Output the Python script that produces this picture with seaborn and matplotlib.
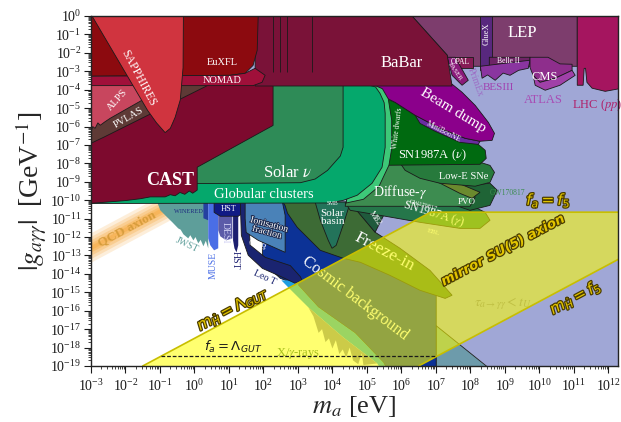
import numpy as np
import matplotlib
matplotlib.use("Agg")
import matplotlib.pyplot as plt
import matplotlib.patheffects as pe
from matplotlib.ticker import LogLocator, NullFormatter, FixedLocator
import seaborn as sns

# === region outlines: (log10 m_a [eV], log10 |g| [GeV^-1]) ===
LAVENDER = [(8.53, -19.1), (12.4, -19.1), (12.4, 0.1), (1.0, 0.1), (1.0, -7.8)]
LONG_LIVED = [(7.0, -19.1), (8.53, -19.1), (7.0, -16.8)]

JWST = [(-1.08, -10.1), (0.40, -10.1), (0.40, -12.61), (0.33, -12.2), (0.26, -12.5),
        (0.18, -12.15), (0.11, -12.34), (0.03, -12.0), (-0.03, -12.18), (-0.12, -11.9),
        (-0.18, -12.07), (-0.32, -11.85), (-0.40, -11.6), (-0.47, -11.53), (-0.64, -11.20),
        (-0.82, -10.87), (-0.99, -10.55)]
WINERED = [(0.26, -10.1), (0.40, -10.1), (0.40, -11.09), (0.26, -10.98)]
MUSE = [(0.40, -10.1), (0.69, -10.1), (0.69, -12.61), (0.57, -12.72), (0.46, -12.45), (0.40, -12.07)]
DESI = [(0.69, -10.1), (1.10, -10.1), (1.10, -12.07), (0.92, -12.18), (0.75, -11.96), (0.69, -11.63)]
HST_LINE = [(1.12, -10.1), (1.27, -10.1), (1.27, -12.45), (1.22, -12.83), (1.16, -12.61), (1.12, -12.18)]
HST_BOX = [(0.57, -10.1), (1.44, -10.1), (1.44, -10.66), (1.27, -10.87), (0.75, -10.87), (0.57, -10.66)]

COSMIC_BG = [(1.97, -10.1), (2.78, -10.1), (4.5, -11.5), (6.0, -13.2), (7.01, -14.6), (7.01, -19.1),
             (5.56, -19.1), (5.47, -18.80), (4.66, -17.22), (3.59, -15.81), (3.01, -14.62),
             (2.49, -14.24), (1.97, -13.37)]
SKY_STRIP = [(2.52, -14.35), (3.0, -14.35), (3.01, -14.62), (3.59, -15.81), (4.66, -17.22), (5.47, -18.80),
             (5.56, -19.1), (5.38, -19.1), (5.30, -18.86), (4.31, -17.44), (3.30, -15.81), (2.72, -14.73)]
XRAYS = [(3.3, -15.81), (4.31, -17.44), (5.30, -18.86), (4.9, -18.95), (4.85, -18.3), (4.75, -18.9),
         (4.6, -18.7), (4.5, -18.0), (4.4, -18.55), (4.3, -18.1), (4.2, -18.35), (4.1, -17.6),
         (4.0, -18.05), (3.9, -17.5), (3.8, -17.7), (3.7, -17.0), (3.6, -17.2), (3.45, -16.3)]
LEO_T_CMB = [(1.33, -10.1), (1.53, -10.1), (1.62, -12.45), (2.05, -13.1), (2.78, -13.55), (3.07, -14.15),
             (3.12, -14.35), (2.92, -14.51), (2.49, -14.13), (1.97, -13.70), (1.56, -12.99), (1.36, -11.91)]
IONISATION = [(1.47, -10.1), (2.55, -10.1), (2.63, -10.82), (2.63, -12.83), (1.85, -12.18),
              (1.50, -11.75), (1.47, -11.0)]

FREEZE_IN = [(2.57, -10.1), (4.52, -10.1), (5.24, -11.74), (5.96, -12.61), (6.83, -13.81), (7.47, -15.16),
             (7.27, -15.33), (6.54, -14.89), (5.67, -14.08), (4.81, -13.37), (4.31, -13.15),
             (3.65, -12.72), (2.98, -11.47), (2.70, -10.71), (2.63, -10.3)]
SOLAR_BASIN = [(3.50, -10.1), (4.52, -10.1), (4.31, -11.36), (4.11, -12.45), (3.99, -12.61),
               (3.88, -12.18), (3.65, -11.09)]
M82 = [(4.52, -10.15), (5.53, -10.66), (5.24, -11.74)]
SN87_GAMMA = [(4.37, -10.15), (7.99, -10.25), (8.43, -10.66), (8.57, -11.09), (8.28, -11.53),
              (7.70, -11.53), (6.54, -11.20), (5.38, -10.82), (4.52, -10.55)]
PVO = [(7.41, -9.3), (8.57, -9.08), (8.78, -9.46), (8.57, -10.28), (7.99, -10.55), (7.6, -10.3)]
DIFFUSE = [(4.66, -8.05), (6.40, -8.05), (8.14, -9.84), (7.99, -10.33), (4.37, -10.33)]
OLIVE_BAND = [(6.11, -8.11), (6.49, -8.16), (8.28, -9.57), (8.05, -9.90), (7.70, -9.63)]
LOWE_SNE = [(5.97, -8.0), (8.28, -7.94), (8.57, -8.11), (8.70, -8.49), (8.57, -9.03), (8.14, -9.24),
            (7.12, -9.08), (6.54, -8.81), (6.11, -8.38)]
SN87_NU = [(5.2, -4.2), (5.82, -4.69), (6.40, -5.39), (7.12, -6.10), (7.85, -6.64), (8.23, -6.97),
           (8.43, -7.29), (8.46, -7.73), (8.28, -8.05), (5.2, -8.11)]
MINIBOONE = [(6.40, -5.39), (7.12, -6.10), (7.85, -6.64), (8.28, -6.80), (8.23, -6.97), (7.70, -6.86),
             (6.98, -6.26), (6.54, -5.83)]
BEAM_DUMP = [(4.66, -3.70), (7.47, -3.70), (7.76, -4.14), (8.14, -4.85), (8.52, -5.77), (8.70, -6.37),
             (8.63, -6.75), (8.28, -6.80), (7.85, -6.64), (7.12, -6.10), (6.40, -5.39), (5.82, -4.69),
             (5.24, -4.14)]

WHITE_DWARFS = [(4.95, -3.7), (5.15, -3.7), (5.45, -3.95), (5.62, -4.5), (5.72, -5.66), (5.72, -7.2),
                (5.64, -8.1), (5.35, -9.25), (4.9, -9.95), (4.4, -10.15)]
GLOBULAR = [(-3.0, -3.7), (4.95, -3.7), (5.25, -3.85), (5.38, -4.20), (5.50, -4.7), (5.53, -5.28),
            (5.53, -7.13), (5.44, -8.21), (5.15, -9.08), (4.72, -9.73), (4.31, -10.01), (3.9, -10.15),
            (-3.0, -10.18)]
SOLAR_NU = [(0.0, -3.7), (4.31, -3.7), (4.31, -7.13), (4.23, -7.6), (3.86, -8.38), (3.5, -8.85),
            (3.07, -9.05), (0.0, -9.1)]
CAST = [(-3.0, -3.7), (2.28, -3.7), (2.28, -5.94), (0.08, -8.21), (0.08, -9.45), (-0.05, -9.62),
        (-0.15, -9.50), (-0.28, -9.68), (-0.42, -9.58), (-0.56, -9.76), (-0.70, -9.70), (-0.85, -9.82),
        (-1.28, -9.82), (-1.57, -9.92), (-2.0, -10.02), (-3.0, -10.17)]
PVLAS = [(-3.0, -6.91), (-2.64, -6.59), (0.46, -3.7), (-3.0, -3.7)]
ALPS = [(-3.0, -3.7), (-0.70, -3.7), (-2.44, -5.55), (-2.6, -5.75), (-2.73, -5.93), (-2.8, -5.80),
        (-2.88, -6.10), (-2.95, -6.0), (-3.0, -6.31)]

LEP = [(6.26, 0.1), (11.10, 0.1), (11.10, -2.73), (7.41, -2.73), (7.33, -2.13)]
LHC = [(11.10, 0.1), (12.4, 0.1), (12.4, -3.92), (11.91, -4.09), (11.53, -3.92), (11.38, -3.6),
       (11.34, -2.84), (11.30, -2.84), (11.27, -3.76), (11.10, -3.76)]
GLUEX = [(8.29, 0.1), (8.63, 0.1), (8.63, -2.95), (8.29, -2.95)]
BELLE2 = [(8.55, -2.24), (9.73, -2.24), (9.73, -2.6), (9.2, -2.75), (8.55, -2.95)]
BESIII = [(8.29, -2.73), (9.73, -2.40), (9.68, -2.84), (9.4, -2.95), (9.15, -3.22), (8.95, -3.1),
          (8.72, -3.49), (8.5, -3.2), (8.34, -3.38)]
CMS = [(9.73, -2.24), (10.25, -2.24), (10.60, -2.6), (10.95, -2.62), (10.95, -2.95), (10.46, -3.38),
       (10.02, -3.60), (9.82, -3.22), (9.73, -2.8)]
ATLAS = [(9.82, -3.22), (10.02, -3.60), (10.46, -3.38), (10.95, -2.95), (11.04, -3.22), (10.60, -3.76),
         (10.17, -4.03), (9.88, -3.76)]
OPAL = [(7.33, -2.2), (8.08, -2.2), (8.08, -2.8), (7.45, -2.8)]
FASER = [(7.33, -2.24), (7.56, -2.24), (7.94, -3.49), (7.76, -3.76), (7.47, -3.22)]
BABAR = [(1.76, 0.1), (6.26, 0.1), (7.33, -2.13), (7.47, -3.80), (1.76, -3.80)]
BABAR_LINES = [2.28, 2.49, 2.69, 3.40]
EUXFL = [(-3.0, 0.1), (1.85, 0.1), (1.82, -1.86), (1.70, -2.68), (1.47, -3.11), (1.04, -3.22), (-3.0, -3.27)]
NOMAD = [(-3.0, -3.27), (1.04, -3.22), (1.47, -3.11), (1.76, -2.84), (2.05, -3.22), (1.96, -3.60),
         (1.70, -3.78), (-3.0, -3.78)]
SAPPHIRES = [(-3.0, 0.1), (-1.36, -5.12), (-1.1, -5.8), (-0.85, -6.33), (-0.7, -6.1), (-0.56, -5.5),
             (-0.41, -4.55), (-0.33, -2.8), (-0.32, 0.1)]

# QCD axion line: log g = QCD_G0 + log m, over this mass range
QCD_LM = [-3.2, -0.3]
QCD_G0 = -9.56

# mirror SU(5) band: m_H = Lambda_GUT line, f_a = f_5 line, m_H = f_5 line
SU5_BAND = [(-1.5, -19.0), (6.85, -10.65), (12.4, -10.65), (12.4, -13.1), (6.5, -19.0)]
FA_GUT_LM = [-0.96, 7.0]
FA_GUT_LG = -18.46

# axis decades
X_DECADES = np.arange(-3, 13)
Y_DECADES = np.arange(-19, 1)

# order of drawing (back to front) with colours
LAYERS = [
    (JWST, "#5e9e9a", "none"), (WINERED, "#2540a0", "none"), (MUSE, "#4a6ee6", "none"),
    (DESI, "#5b5ba8", "none"), (HST_LINE, "#1c1f70", "none"), (HST_BOX, "#101a85", "k"),
    (COSMIC_BG, "#0c3296", "k"), (SKY_STRIP, "#1e9ee0", "none"), (XRAYS, "#8c8aa4", "none"),
    (LEO_T_CMB, "#1a2470", "k"), (IONISATION, "#4a82b8", "k"),
    (FREEZE_IN, "#3d6b35", "k"), (SOLAR_BASIN, "#23735a", "k"), (M82, "#1f5a3c", "k"),
    (SN87_GAMMA, "#25764a", "k"), (PVO, "#1f6436", "k"), (DIFFUSE, "#3d8c50", "k"),
    (OLIVE_BAND, "#6b8a2e", "k"), (LOWE_SNE, "#277a3c", "k"), (SN87_NU, "#006a10", "k"),
    (MINIBOONE, "#6a2ca0", "k"), (BEAM_DUMP, "#8b008b", "k"),
    (WHITE_DWARFS, "#3dc878", "k"), (GLOBULAR, "#05a86c", "k"), (SOLAR_NU, "#2e8b57", "k"),
    (CAST, "#7d0a2e", "k"), (PVLAS, "#5e3a36", "k"), (ALPS, "#c8465e", "k"),
    (LEP, "#7d3d6d", "k"), (LHC, "#a5155f", "k"), (GLUEX, "#58287e", "k"), (BELLE2, "#6e2466", "k"),
    (BESIII, "#8a35a0", "k"), (CMS, "#8e2e8c", "k"), (ATLAS, "#a040a8", "k"), (OPAL, "#861c56", "k"),
    (FASER, "#8a1a7a", "k"), (BABAR, "#7a1238", "k"), (EUXFL, "#8c0a0f", "k"), (NOMAD, "#a0103a", "k"),
    (SAPPHIRES, "#d0343f", "k"),
]

# labels: (log m, log g, text, size, colour, rotation)
LABELS = [
    (0.81, -2.51, "EuXFL", 7.5, "white", 0), (0.81, -3.52, "NOMAD", 7.5, "white", 0),
    (-1.63, -3.38, "SAPPHIRES", 8.5, "white", -62), (-2.24, -4.58, "ALPS", 7.5, "white", 48),
    (-1.92, -5.50, "PVLAS", 7.5, "white", 30), (-0.70, -8.95, "CAST", 13, "white", 0),
    (2.70, -8.55, r"Solar $\nu$", 12, "white", 0), (2.02, -9.68, "Globular clusters", 10.5, "white", 0),
    (6.02, -2.57, "BaBar", 12, "white", 0), (9.51, -0.95, "LEP", 12, "white", 0),
    (8.46, -0.95, "GlueX", 6, "white", 90), (7.71, -2.51, "OPAL", 5.5, "white", 0),
    (7.56, -3.05, "FASER", 5, "white", -55), (8.14, -3.60, "PrimEx", 7, "#9d6cc4", -70),
    (9.10, -2.42, "Belle II", 5.5, "white", 0), (8.81, -3.87, "BESIII", 8, "#a040b0", 0),
    (10.17, -3.33, "CMS", 9, "white", 0), (10.11, -4.58, "ATLAS", 9, "#a84cb4", 0),
    (11.68, -4.85, r"LHC ($pp$)", 9, "#b0206a", 0), (7.51, -5.12, "Beam dump", 11, "white", -31),
    (7.22, -6.31, "MiniBooNE", 5.5, "white", -27), (5.89, -6.10, "White dwarfs", 5.5, "white", 83),
    (6.89, -7.56, r"SN1987A ($\nu$)", 9, "white", 0), (7.80, -8.70, "Low-E SNe", 7.5, "white", 0),
    (5.97, -9.57, r"Diffuse-$\gamma$", 10, "white", 0), (9.07, -9.63, "GW170817", 5.5, "#3c8c50", 0),
    (7.91, -10.10, "PVO", 6.5, "white", 0), (6.63, -10.28, "GW170817", 4.5, "white", -15),
    (6.93, -10.76, r"SN1987A ($\gamma$)", 8.5, "white", -17), (6.93, -11.75, "EBL", 5, "white", -15),
    (4.0, -10.93, "Solar\nbasin", 8, "white", 0), (4.0, -10.2, "SMB", 4, "white", 0),
    (5.24, -10.98, "M82", 6, "white", -55), (5.51, -12.83, "Freeze-in", 12.5, "white", -28),
    (4.66, -15.33, "Cosmic background", 11.5, "white", -37),
    (3.01, -18.31, r"X/$\gamma$-rays", 9, "#3a7040", 0),
    (-0.21, -12.45, "JWST", 7, "#5e9e9a", -25), (-0.18, -10.6, "WINERED", 4.5, "#1e2a80", 0),
    (0.55, -13.53, "MUSE", 7, "#4a6ee6", 90), (0.89, -11.75, "DESI", 7, "#d0d0f4", -90),
    (1.19, -13.26, "HST", 7, "#1c1f70", -90), (0.98, -10.5, "HST", 6, "white", 0),
    (1.82, -12.45, "CMB", 6, "white", -20), (2.05, -14.19, "Leo T", 7, "#1a2470", -25),
    (8.95, -15.6, r"$\tau_{a\to\gamma\gamma} < t_U$", 10, "#6e6e98", 0),
]
GOLD_LABELS = [
    (8.95, -12.72, "mirror SU(5) axion", 9.5, 28),
    (11.04, -15.28, r"$m_{\mathring{H}} = f_5$", 11, 28),
    (10.26, -10.0, r"$f_a = f_5$", 11, 0),
    (1.10, -15.87, r"$m_{\mathring{H}} = \Lambda_{GUT}$", 11, 28),
]

sns.set_theme(style="ticks")
plt.rcParams["font.family"] = ["Liberation Serif", "DejaVu Serif"]
plt.rcParams["mathtext.fontset"] = "stix"

fig = plt.figure(figsize=(6.21, 4.22), dpi=100)
ax = fig.add_axes([0.1465, 0.1327, 0.8486, 0.8294])
ax.set_xscale("log")
ax.set_yscale("log")
ax.set_facecolor("white")


def region(pts, fc, ec="k", z=2):
    lm, lg = np.array(pts).T
    ax.fill(10 ** lm, 10 ** lg, fc=fc, ec=ec, lw=0.6, zorder=z)


region(LAVENDER, "#a0a7d6", ec="none", z=1)
region(LONG_LIVED, "#6d9bab", z=1.5)

# QCD axion band, soft orange glow
qx = np.array(QCD_LM)
qc = QCD_G0 + qx
for w, a in [(0.8, 0.18), (0.6, 0.22), (0.42, 0.28), (0.25, 0.35), (0.12, 0.35)]:
    ax.fill_between(10 ** qx, 10 ** (qc - w), 10 ** (qc + w), color="#f7a535", alpha=a, lw=0, zorder=1.6)

for pts, fc, ec in LAYERS:
    region(pts, fc, ec)

ax.vlines(10 ** np.array(BABAR_LINES), 10 ** -3.05, 1, color="k", lw=0.6, zorder=2.1)

for lm, lg, s, fs, c, rot in LABELS:
    fw = "bold" if s == "CAST" else "normal"
    ax.text(10 ** lm, 10 ** lg, s, fontsize=fs, color=c, rotation=rot, ha="center", va="center",
            rotation_mode="anchor", fontweight=fw, zorder=4, linespacing=0.9)
ax.text(10 ** 2.14, 10 ** -11.53, "Ionisation\nfraction", fontsize=7, color="white", rotation=-15,
        ha="center", va="center", rotation_mode="anchor", linespacing=0.85, zorder=4,
        path_effects=[pe.withStroke(linewidth=1.3, foreground="#1c2a50")])
ax.text(10 ** -1.95, 10 ** -11.53, "QCD axion", fontsize=9.5, color="#d49a38", fontweight="bold",
        rotation=28, ha="center", va="center", rotation_mode="anchor", alpha=0.9, zorder=4)

# mirror SU(5) band drawn over everything
bx, by = np.array(SU5_BAND).T
ax.fill(10 ** bx, 10 ** by, fc="#ffff00", ec="none", alpha=0.56, zorder=5)
band_edges = [SU5_BAND[0:3], SU5_BAND[3:5]]
for seg in band_edges:
    sx, sy = np.array(seg).T
    sns.lineplot(x=10 ** sx, y=10 ** sy, ax=ax, color="#c8be00", lw=1.2, sort=False, zorder=5.2)
sns.lineplot(x=10 ** np.array(FA_GUT_LM), y=[10 ** FA_GUT_LG] * 2, ax=ax, color="k", lw=0.9,
             linestyle=(0, (3, 1.5)), zorder=5.3)
ax.text(10 ** 1.13, 10 ** -17.98, r"$f_a = \Lambda_{GUT}$", fontsize=9.5, color="k", ha="center",
        va="center", math_fontfamily="dejavusans", zorder=6)

gold_fx = [pe.withStroke(linewidth=1.8, foreground="#4a3c00")]
for lm, lg, s, fs, rot in GOLD_LABELS:
    kw = dict(math_fontfamily="dejavusans") if s.startswith("$") else dict(family="DejaVu Sans")
    ax.text(10 ** lm, 10 ** lg, s, fontsize=fs, color="#e2c400", rotation=rot, ha="center", va="center",
            rotation_mode="anchor", fontweight="bold", fontstyle="italic", zorder=6,
            path_effects=gold_fx, **kw)

ax.set_xlim(1e-3, 10 ** 12.28)
ax.set_ylim(1e-19, 1)
ax.xaxis.set_major_locator(FixedLocator(10.0 ** X_DECADES))
ax.yaxis.set_major_locator(FixedLocator(10.0 ** Y_DECADES))
for a in (ax.xaxis, ax.yaxis):
    a.set_minor_locator(LogLocator(base=10, subs=np.arange(2, 10), numticks=300))
    a.set_minor_formatter(NullFormatter())
ax.tick_params(which="major", direction="out", length=5, width=0.8, labelsize=10, pad=2, colors="k")
ax.tick_params(axis="x", which="major", pad=3.5)
ax.tick_params(which="minor", direction="out", length=2.5, width=0.6)
for sp in ax.spines.values():
    sp.set_zorder(10)
    sp.set_linewidth(1.0)
    sp.set_color("#222222")

ax.set_xlabel(r"$m_a$ [eV]", fontsize=19, labelpad=0)
ax.set_ylabel(r"$|g_{a\gamma\gamma}|\;$ [GeV$^{-1}$]", fontsize=20, labelpad=1)

fig.savefig("out.png", dpi=100)
